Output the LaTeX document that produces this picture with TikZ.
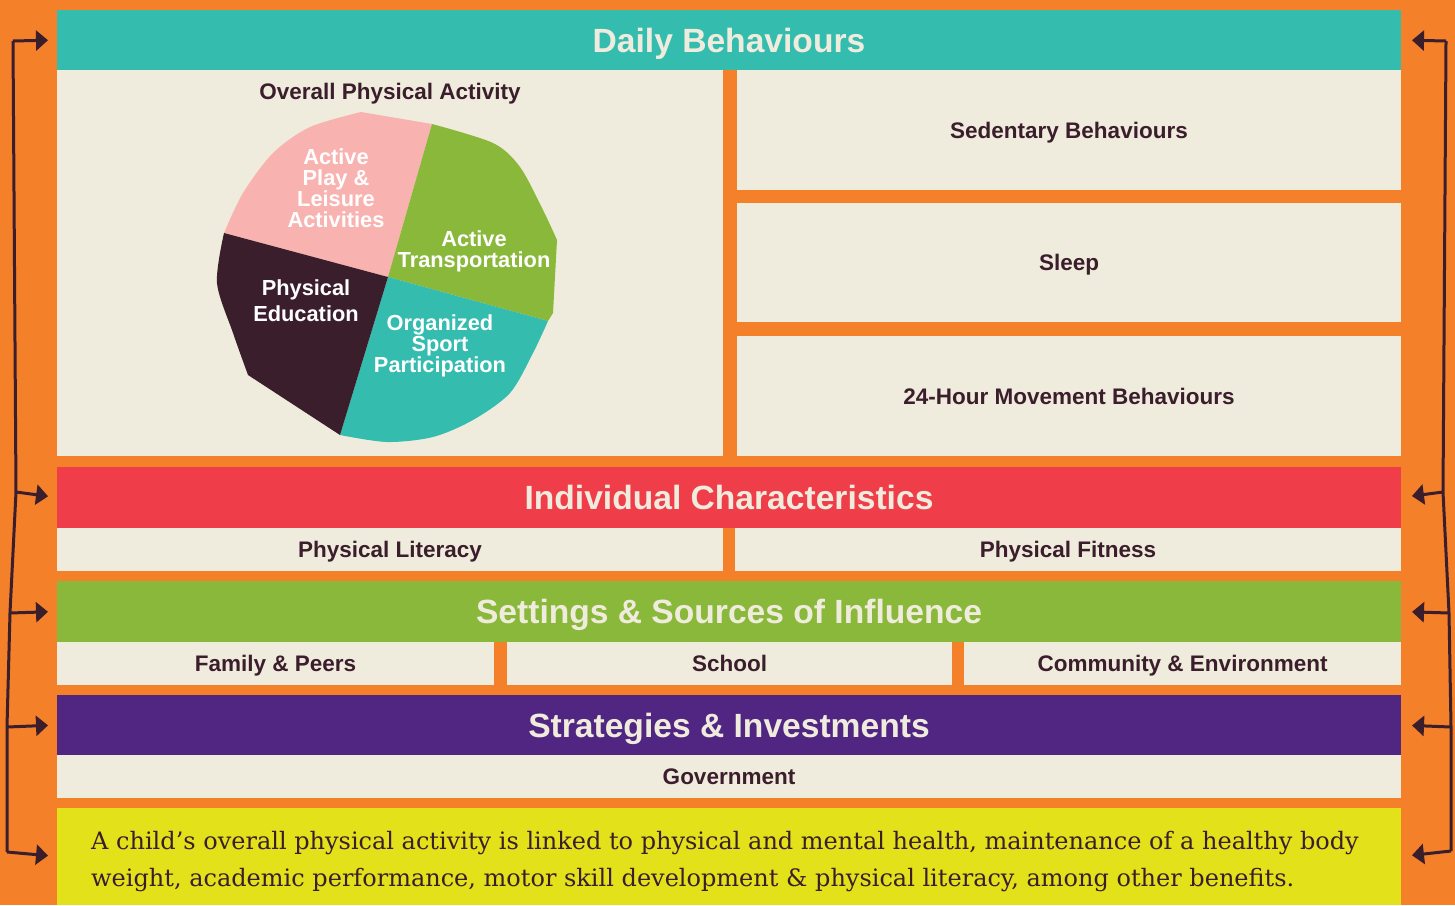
\documentclass[tikz,border=0pt]{standalone}
\usepackage{fontspec}
\setmainfont{DejaVu Serif}
\newfontfamily\hv{Liberation Sans}
\usetikzlibrary{arrows.meta}
\definecolor{org}{HTML}{F5802A}
\definecolor{teal}{HTML}{34BCAF}
\definecolor{cream}{HTML}{F0ECDD}
\definecolor{redb}{HTML}{EF3E4A}
\definecolor{grn}{HTML}{8AB83A}
\definecolor{purp}{HTML}{512683}
\definecolor{yel}{HTML}{E3E11A}
\definecolor{dk}{HTML}{3B1E2C}
\definecolor{pnk}{HTML}{F8B3B0}
\tikzset{
  box/.style={anchor=north west, inner sep=0pt, outer sep=0pt, text=dk, text depth=0pt,
    font=\hv\bfseries\fontsize{22.5}{25}\selectfont},
  title/.style={box, text=cream, font=\hv\bfseries\fontsize{33.6}{36}\selectfont},
  lbl/.style={inner sep=0pt, text=dk, text depth=0pt, font=\hv\bfseries\fontsize{22.5}{25}\selectfont},
  pie/.style={inner sep=0pt, align=center, text=white, font=\hv\bfseries\fontsize{21.8}{21}\selectfont},
  conn/.style={draw=dk, line width=3pt, line join=miter},
  arr/.style={conn, -{Triangle[length=12pt,width=20pt]}},
}
\begin{document}
\begin{tikzpicture}[x=1pt,y=-1pt]
\fill[org] (0,0) rectangle (1455,905);
\useasboundingbox (0,0) rectangle (1455,905);

% Daily behaviours
\node[title, fill=teal, minimum width=1344pt, minimum height=60pt] (db) at (57,10) {Daily Behaviours};
\node[box, fill=cream, minimum width=666pt, minimum height=386pt] (opa) at (57,70) {};
\node[lbl] (opat) at (390,91) {Overall Physical Activity};
\node[box, fill=cream, minimum width=664pt, minimum height=120pt] (sed) at (737,70) {Sedentary Behaviours};
\node[box, fill=cream, minimum width=664pt, minimum height=119pt] (slp) at (737,203) {Sleep};
\node[box, fill=cream, minimum width=664pt, minimum height=120pt] (mov) at (737,336) {24-Hour Movement Behaviours};

% pie
\coordinate (pc) at (388,277);
\fill[pnk] (pc) -- plot[smooth] coordinates {(224,233) (243,193) (273,153) (310,127) (361,112)} -- (432,124) -- cycle;
\fill[grn] (pc) -- plot[smooth] coordinates {(432,124) (493,143) (520,167) (543,210) (557,240)} -- (553,313) -- (548,321) -- cycle;
\fill[teal] (pc) -- plot[smooth] coordinates {(548,321) (533,353) (510,393) (473,420) (433,437) (387,442) (340,435)} -- cycle;
\fill[dk] (pc) -- (340,435) -- (248,375) -- plot[smooth] coordinates {(248,375) (233,333) (217,283) (224,233)} -- cycle;
\node[pie] (p1) at (336,188) {Active\\Play \&\\Leisure\\Activities};
\node[pie] (p2) at (474,251) {Active\\Transportation};
\node[pie, font=\hv\bfseries\fontsize{21.8}{26}\selectfont] (p3) at (306,301) {Physical\\Education};
\node[pie] (p4) at (440,346) {Organized\\Sport\\Participation};

% Individual characteristics
\node[title, fill=redb, minimum width=1344pt, minimum height=61pt] (ic) at (57,467) {Individual Characteristics};
\node[box, fill=cream, minimum width=666pt, minimum height=43pt] (pl) at (57,528) {Physical Literacy};
\node[box, fill=cream, minimum width=666pt, minimum height=43pt] (pf) at (735,528) {Physical Fitness};

% Settings
\node[title, fill=grn, minimum width=1344pt, minimum height=61pt] (ss) at (57,581) {Settings \& Sources of Influence};
\node[box, fill=cream, minimum width=437pt, minimum height=43pt] (fp) at (57,642) {Family \& Peers};
\node[box, fill=cream, minimum width=445pt, minimum height=43pt] (sc) at (507,642) {School};
\node[box, fill=cream, minimum width=437pt, minimum height=43pt] (ce) at (964,642) {Community \& Environment};

% Strategies
\node[title, fill=purp, minimum width=1344pt, minimum height=60pt] (si) at (57,695) {Strategies \& Investments};
\node[box, fill=cream, minimum width=1344pt, minimum height=43pt] (gov) at (57,755) {Government};

% bottom
\node[box, fill=yel, minimum width=1344pt, minimum height=97pt] (yb) at (57,808) {};
\node[anchor=west, inner sep=0pt, align=left, text=dk, font=\fontsize{24}{37}\selectfont] (bt) at (91,862)
  {A child’s overall physical activity is linked to physical and mental health, maintenance of a healthy body\\
   weight, academic performance, motor skill development \& physical literacy, among other benefits.};

% left connectors
\coordinate (lt) at (13,41);
\coordinate (l1) at (16,492);
\coordinate (l2) at (10,613);
\coordinate (l3) at (7,727);
\coordinate (lb) at (7,852);
\draw[conn] (lt) -- (l1) -- (l2) -- (l3) -- (lb);
\draw[arr, shorten >=9pt] (lt) -- (db.west);
\draw[arr, shorten >=9pt] (l1) -- (ic.west);
\draw[arr, shorten >=9pt] (l2) -- (ss.west);
\draw[arr, shorten >=9pt] (l3) -- (si.west);
\draw[arr, shorten >=9pt] (lb) -- (yb.west);

% right connectors
\coordinate (rt) at (1446,41);
\coordinate (r1) at (1443,492);
\coordinate (r2) at (1449,613);
\coordinate (r3) at (1451,727);
\coordinate (rb) at (1451,851);
\draw[conn] (rt) -- (r1) -- (r2) -- (r3) -- (rb);
\draw[arr, shorten >=11pt] (rt) -- (db.east);
\draw[arr, shorten >=11pt] (r1) -- (ic.east);
\draw[arr, shorten >=11pt] (r2) -- (ss.east);
\draw[arr, shorten >=11pt] (r3) -- (si.east);
\draw[arr, shorten >=11pt] (rb) -- (yb.east);
\end{tikzpicture}
\end{document}
